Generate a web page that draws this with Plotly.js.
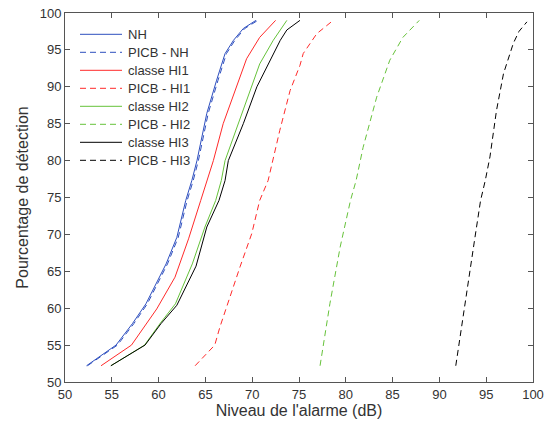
<!DOCTYPE html>
<html>
<head>
<meta charset="utf-8">
<script src="https://cdn.plot.ly/plotly-3.0.1.min.js"></script>
<style>html,body{margin:0;padding:0;background:#fff;}#chart{width:548px;height:429px;}</style>
</head>
<body>
<div id="chart"></div>
<script>
// Series names
const seriesNames = ["NH", "PICB - NH", "classe HI1", "PICB - HI1", "classe HI2", "PICB - HI2", "classe HI3", "PICB - HI3"];

// NH (solid blue)
const nhX = [52.3, 55.45, 57.2, 58.65, 60.8, 61.95, 62.9, 63.55, 64.1, 65.15, 66.2, 67.1, 68.0, 69.05, 70.4];
const nhY = [52.2, 55.0, 57.9, 60.6, 66.0, 69.6, 74.6, 77.3, 80.0, 86.4, 90.9, 94.5, 96.3, 97.9, 99.0];
// PICB - NH (dashed blue)
const picbNhX = [52.4, 55.6, 57.35, 58.8, 60.95, 62.1, 63.05, 63.7, 64.25, 65.3, 66.35, 67.25, 68.15, 69.2, 70.6];
const picbNhY = [52.2, 55.0, 57.9, 60.6, 66.0, 69.6, 74.6, 77.3, 80.0, 86.4, 90.9, 94.5, 96.3, 97.9, 99.0];
// classe HI1 (solid red)
const hi1X = [53.85, 57.1, 58.45, 59.8, 61.75, 63.2, 64.5, 65.2, 65.85, 66.9, 68.15, 69.4, 70.8, 72.5];
const hi1Y = [52.2, 55.0, 57.45, 59.9, 64.2, 69.4, 74.6, 77.3, 80.0, 85.0, 89.5, 93.8, 96.7, 99.0];
// PICB - HI1 (dashed red)
const picbHi1X = [63.9, 66.0, 66.55, 67.6, 68.7, 69.95, 70.8, 71.7, 72.95, 74.05, 75.1, 75.45, 76.9, 78.65];
const picbHi1Y = [52.2, 55.0, 57.45, 61.5, 65.6, 70.1, 74.6, 77.3, 84.1, 89.5, 92.9, 94.5, 97.2, 99.0];
// classe HI2 (solid green)
const hi2X = [54.9, 58.5, 60.2, 61.8, 63.6, 64.95, 66.1, 66.7, 67.1, 68.5, 69.8, 70.8, 72.25, 73.7];
const hi2Y = [52.2, 55.0, 58.0, 60.6, 66.0, 71.0, 74.6, 77.3, 80.0, 85.0, 89.5, 93.1, 96.3, 99.0];
// PICB - HI2 (dashed green)
const picbHi2X = [77.25, 78.3, 79.4, 80.5, 81.1, 81.85, 83.3, 84.7, 86.1, 87.85];
const picbHi2Y = [52.2, 60.6, 68.3, 74.6, 77.3, 81.8, 88.6, 93.6, 96.7, 99.0];
// classe HI3 (solid black)
const hi3X = [54.9, 58.55, 60.25, 61.95, 64.0, 65.15, 66.45, 67.1, 67.45, 69.05, 70.5, 71.9, 73.0, 73.7, 75.1];
const hi3Y = [52.2, 55.0, 57.9, 60.4, 65.7, 71.0, 74.6, 77.3, 80.0, 85.0, 90.0, 93.6, 96.3, 97.7, 99.0];
// PICB - HI3 (dashed black)
const picbHi3X = [91.75, 92.4, 93.1, 93.8, 94.4, 94.9, 95.4, 96.1, 96.85, 97.9, 98.5, 99.35];
const picbHi3Y = [52.2, 57.9, 63.8, 69.6, 74.6, 77.3, 80.5, 86.8, 91.8, 95.9, 97.5, 98.8];

const xTicks = [50, 55, 60, 65, 70, 75, 80, 85, 90, 95, 100];
const yTicks = [50, 55, 60, 65, 70, 75, 80, 85, 90, 95, 100];

const BLUE = "#2e4fbf", RED = "#ff2a2a", GREEN = "#66c23a", BLACK = "#000000";
const DASH = "6px,4px";
const seriesColors = [BLUE, BLUE, RED, RED, GREEN, GREEN, BLACK, BLACK];
const seriesDashed = [false, true, false, true, false, true, false, true];
const seriesX = [nhX, picbNhX, hi1X, picbHi1X, hi2X, picbHi2X, hi3X, picbHi3X];
const seriesY = [nhY, picbNhY, hi1Y, picbHi1Y, hi2Y, picbHi2Y, hi3Y, picbHi3Y];

const data = seriesNames.map((name, i) => ({
  type: "scatter", mode: "lines", name: name, x: seriesX[i], y: seriesY[i],
  showlegend: false,
  line: {color: seriesColors[i], width: 1, dash: seriesDashed[i] ? DASH : "solid"}
}));

const W = 548, H = 429;
const M = {l: 65, r: 15, t: 13, b: 47};
const PW = W - M.l - M.r, PH = H - M.t - M.b;
const px2x = px => (px - M.l) / PW;
const py2y = py => (H - M.b - py) / PH;

const FONT = "Liberation Sans, Arial, Helvetica, sans-serif";

// Custom legend (MATLAB-like, no box)
const legTop = 34.3, legStep = 18, legLineX0 = 80, legLineX1 = 122, legTextX = 126;
const shapes = [], annotations = [];
seriesNames.forEach((name, i) => {
  const yy = py2y(legTop + legStep * i);
  shapes.push({
    type: "line", xref: "paper", yref: "paper",
    x0: px2x(legLineX0), x1: px2x(legLineX1), y0: yy, y1: yy,
    line: {color: seriesColors[i], width: 1, dash: seriesDashed[i] ? DASH : "solid"}
  });
  annotations.push({
    xref: "paper", yref: "paper", x: px2x(legTextX), y: yy,
    xanchor: "left", yanchor: "middle", showarrow: false, text: name,
    font: {family: FONT, size: 13, color: "#333"}
  });
});

const axisCommon = {
  range: [50, 100], tickmode: "array", ticks: "inside", ticklen: 5, tickwidth: 1,
  tickcolor: "#555", showline: true, linecolor: "#555", linewidth: 1, mirror: "ticks",
  showgrid: false, zeroline: false, tickfont: {family: FONT, size: 13, color: "#333"},
  automargin: false
};

const layout = {
  width: W, height: H,
  margin: M,
  paper_bgcolor: "#fff", plot_bgcolor: "#fff",
  font: {family: FONT, color: "#333"},
  showlegend: false,
  shapes: shapes,
  annotations: annotations,
  xaxis: Object.assign({}, axisCommon, {
    tickvals: xTicks, ticktext: xTicks.map(String),
    title: {text: "Niveau de l'alarme (dB)", font: {family: FONT, size: 16, color: "#333"}, standoff: 4}
  }),
  yaxis: Object.assign({}, axisCommon, {
    tickvals: yTicks, ticktext: yTicks.map(String),
    title: {text: "Pourcentage de détection", font: {family: FONT, size: 16, color: "#333"}, standoff: 7}
  })
};

Plotly.newPlot("chart", data, layout, {displayModeBar: false, staticPlot: true});
</script>
</body>
</html>
